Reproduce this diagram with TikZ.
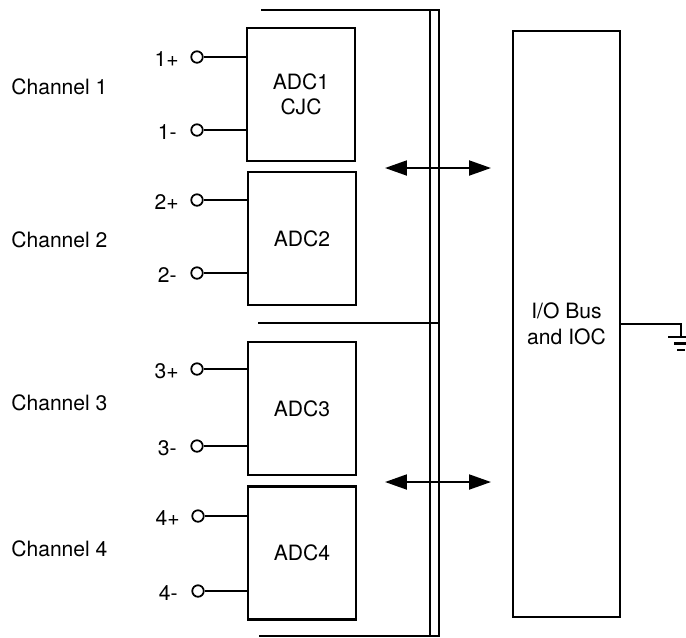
\documentclass[tikz,border=0pt]{standalone}
\usepackage{fontspec}
\setmainfont{TeX Gyre Heros}
\usetikzlibrary{arrows.meta}
\begin{document}
\begin{tikzpicture}[x=0.02cm,y=-0.02cm,
  every node/.style={font=\fontsize{12}{14.5}\selectfont},
  ln/.style={line width=1.2pt},
  adcbox/.style={draw,line width=1.2pt,minimum width=2.16cm,minimum height=2.66cm,align=center,inner sep=0pt},
  iobox/.style={draw,line width=1.2pt,minimum width=2.14cm,minimum height=11.72cm,align=center,inner sep=0pt},
  term/.style={circle,draw,line width=1pt,minimum size=0.23cm,inner sep=0pt},
  pinlbl/.style={anchor=east,inner sep=0pt},
  chlbl/.style={anchor=west,inner sep=0pt},
  bidir/.style={line width=1.2pt,{Triangle[length=12.5pt,width=8.5pt]}-{Triangle[length=12.5pt,width=8.5pt]}}
]
\useasboundingbox (0,0) rectangle (686,637);
\clip (0,0) rectangle (686,637);

% ADC boxes
\node[adcbox] (adc1) at (301,94.5) {ADC1\\CJC};
\node[adcbox] (adc2) at (302,238.5) {ADC2};
\node[adcbox] (adc3) at (302,408.5) {ADC3};
\node[adcbox] (adc4) at (302,553) {ADC4};

% I/O box
\node[iobox] (io) at (566.5,324) {I/O Bus\\and IOC};

% terminals
\node[term] (t1p) at (197,57) {};
\node[term] (t1m) at (197,130) {};
\node[term] (t2p) at (197,200) {};
\node[term] (t2m) at (197,273) {};
\node[term] (t3p) at (197,369) {};
\node[term] (t3m) at (197,446) {};
\node[term] (t4p) at (198,516) {};
\node[term] (t4m) at (198,591) {};

\foreach \t/\b in {t1p/adc1,t1m/adc1,t2p/adc2,t2m/adc2,t3p/adc3,t3m/adc3,t4p/adc4,t4m/adc4}
  \draw[ln] (\t.east) -- (\t.east -| \b.west);

% pin labels
\node[pinlbl] (l1p) at (179,59) {1+};
\node[pinlbl] (l1m) at (177,132) {1-};
\node[pinlbl] (l2p) at (179,202) {2+};
\node[pinlbl] (l2m) at (177,275) {2-};
\node[pinlbl] (l3p) at (179,371) {3+};
\node[pinlbl] (l3m) at (177,448) {3-};
\node[pinlbl] (l4p) at (180,518) {4+};
\node[pinlbl] (l4m) at (178,593) {4-};

% channel labels
\node[chlbl] (c1) at (11,87) {Channel 1};
\node[chlbl] (c2) at (11,240) {Channel 2};
\node[chlbl] (c3) at (11,403) {Channel 3};
\node[chlbl] (c4) at (11,549) {Channel 4};

% bus
\coordinate (btl) at (261,10);
\coordinate (bto) at (439,10);
\coordinate (bbo) at (439,636);
\coordinate (bbl) at (259,636);
\coordinate (bti) at (430,10);
\coordinate (bbi) at (430,636);
\coordinate (bml) at (258,323);
\coordinate (bmr) at (439,323);
\draw[ln] (btl) -- (bto) -- (bbo) -- (bbl);
\draw[ln] (bti) -- (bbi);
\draw[ln] (bml) -- (bmr);

% arrows
\coordinate (a1l) at (385,168);
\coordinate (a1r) at (491,168);
\coordinate (a2l) at (385,482);
\coordinate (a2r) at (491,482);
\draw[bidir] (a1l) -- (a1r);
\draw[bidir] (a2l) -- (a2r);

% ground
\coordinate (g0) at (681,324);
\coordinate (g1) at (681,337);
\draw[ln] (io.east) -- (g0) -- (g1);
\draw[ln] (668,337) -- (694,337);
\draw[ln] (674,343.5) -- (688,343.5);
\draw[ln] (677,350) -- (685,350);
\end{tikzpicture}
\end{document}
